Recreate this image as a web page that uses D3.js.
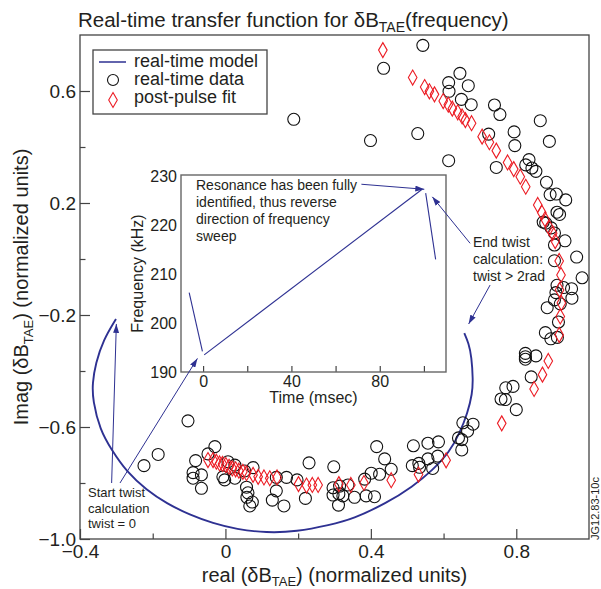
<!DOCTYPE html>
<html>
<head>
<meta charset="utf-8">
<script src="https://cdn.jsdelivr.net/npm/d3@7"></script>
<style>
  body { margin: 0; background: #fff; }
  svg { display: block; font-family: "Liberation Sans", Arial, Helvetica, sans-serif; }
</style>
</head>
<body>
<script>
// ---- data ----
// real-time model curve, [real, imag]
const modelCurve = [
  [-0.301, -0.214], [-0.336, -0.289], [-0.357, -0.373], [-0.366, -0.444], [-0.365, -0.504],
  [-0.345, -0.611], [-0.313, -0.682], [-0.272, -0.760], [-0.217, -0.825], [-0.162, -0.873],
  [-0.098, -0.914], [-0.034, -0.944], [0.030, -0.965], [0.113, -0.978], [0.195, -0.974],
  [0.287, -0.950], [0.351, -0.928], [0.442, -0.873], [0.515, -0.813], [0.570, -0.754],
  [0.616, -0.690], [0.644, -0.623], [0.666, -0.551], [0.679, -0.480], [0.681, -0.432],
  [0.677, -0.349], [0.669, -0.301], [0.657, -0.265]
];

// real-time data (circles)
const realTimeData = [
  [0.543, 0.763], [0.435, 0.681], [0.645, 0.663], [0.614, 0.630], [0.668, 0.619], [0.615, 0.599],
  [0.649, 0.570], [0.676, 0.551], [0.740, 0.550], [0.755, 0.516], [0.866, 0.494], [0.529, 0.448],
  [0.724, 0.446], [0.794, 0.454], [0.891, 0.420], [0.796, 0.405], [0.614, 0.351], [0.745, 0.327],
  [0.835, 0.355], [0.826, 0.336], [0.843, 0.325], [0.854, 0.313], [0.883, 0.274], [0.893, 0.230],
  [0.910, 0.232], [0.936, 0.211], [0.912, 0.167], [0.919, 0.159], [0.874, 0.132], [0.881, 0.128],
  [0.896, 0.111], [0.905, 0.093], [0.934, 0.065], [0.905, 0.050], [0.966, 0.007], [0.905, -0.006],
  [0.981, -0.067], [0.912, -0.094], [0.930, -0.102], [0.952, -0.106], [0.909, -0.120], [0.953, -0.140],
  [0.905, -0.146], [0.921, -0.160], [0.885, -0.174], [0.916, -0.225], [0.880, -0.263], [0.895, -0.285],
  [0.913, -0.280], [0.825, -0.337], [0.825, -0.349], [0.825, -0.358], [0.854, -0.346], [0.841, -0.421],
  [0.771, -0.460], [0.791, -0.455], [0.758, -0.500], [0.770, -0.502], [0.800, -0.538], [0.653, -0.585],
  [0.681, -0.590], [0.666, -0.615], [0.641, -0.639], [0.650, -0.645], [0.650, -0.682], [0.586, -0.653],
  [0.584, -0.704], [0.557, -0.658], [0.517, -0.667], [0.514, -0.738], [0.532, -0.730], [0.534, -0.744],
  [0.557, -0.714], [0.570, -0.748], [0.416, -0.670], [0.438, -0.714], [0.456, -0.751], [0.424, -0.769],
  [0.401, -0.765], [0.383, -0.786], [0.298, -0.742], [0.296, -0.817], [0.314, -0.811], [0.337, -0.807],
  [0.296, -0.843], [0.312, -0.839], [0.323, -0.846], [0.311, -0.879], [0.355, -0.851], [0.387, -0.846],
  [0.410, -0.849], [0.230, -0.728], [0.220, -0.855], [0.140, -0.780], [0.168, -0.780], [0.197, -0.789],
  [0.140, -0.828], [0.129, -0.861], [0.161, -0.882], [0.058, -0.815], [0.062, -0.835], [0.059, -0.851],
  [0.074, -0.868], [0.067, -0.882], [0.007, -0.724], [0.026, -0.736], [0.053, -0.757], [0.076, -0.745],
  [-0.089, -0.763], [-0.066, -0.771], [-0.089, -0.783], [-0.007, -0.778], [-0.002, -0.789], [0.026, -0.783],
  [-0.066, -0.819], [-0.029, -0.670], [-0.048, -0.696], [-0.082, -0.720], [-0.103, -0.578], [-0.185, -0.698],
  [-0.224, -0.738], [0.188, 0.499], [0.399, 0.423]
];

// post-pulse fit (diamonds)
const postPulseFit = [
  [0.433, 0.746], [0.515, 0.648], [0.548, 0.614], [0.561, 0.599], [0.575, 0.588], [0.599, 0.564],
  [0.613, 0.551], [0.624, 0.537], [0.639, 0.524], [0.651, 0.509], [0.660, 0.496], [0.677, 0.485],
  [0.706, 0.437], [0.726, 0.417], [0.745, 0.387], [0.776, 0.345], [0.793, 0.321], [0.811, 0.294],
  [0.826, 0.258], [0.859, 0.193], [0.870, 0.166], [0.879, 0.142], [0.891, 0.111], [0.900, 0.092],
  [0.907, 0.064], [0.918, -0.007], [0.923, -0.057], [0.919, -0.111], [0.924, -0.157], [0.921, -0.205],
  [0.918, -0.271], [0.888, -0.364], [0.872, -0.413], [0.849, -0.464], [0.760, -0.587], [0.607, -0.719],
  [0.531, -0.770], [0.456, -0.790], [0.381, -0.800], [0.345, -0.807], [0.312, -0.804], [0.255, -0.807],
  [0.239, -0.807], [0.223, -0.809], [0.201, -0.804], [0.142, -0.780], [0.122, -0.783], [0.106, -0.780],
  [0.090, -0.778], [0.076, -0.771], [0.058, -0.765], [0.048, -0.760], [0.037, -0.756], [0.028, -0.751],
  [0.019, -0.748], [0.010, -0.742], [0.001, -0.736], [-0.008, -0.732], [-0.016, -0.730], [-0.025, -0.724],
  [-0.034, -0.718], [-0.048, -0.718]
];

// inset: frequency sweep, [time msec, kHz]
const sweepSegments = [
  [[-6.3, 206.2], [-0.3, 194.2]],
  [[0.5, 193.5], [99.2, 227.3]],
  [[100.8, 226.5], [105.3, 213.0]]
];

const xMajor = [-0.4, 0, 0.4, 0.8];
const xMinor = [-0.2, 0.2, 0.6];
const yMajor = [0.6, 0.2, -0.2, -0.6, -1.0];
const yMinor = [0.4, 0, -0.4, -0.8];
const insetXMajor = [0, 40, 80];
const insetXMinor = [20, 60, 100];
const insetYTicks = [190, 200, 210, 220, 230];

const legendLabels = ["real-time model", "real-time data", "post-pulse fit"];
const noteResonance = ["Resonance has been fully", "identified, thus reverse", "direction of frequency", "sweep"];
const noteEnd = ["End twist", "calculation:", "twist > 2rad"];
const noteStart = ["Start twist", "calculation", "twist = 0"];

// ---- styles ----
const ink = "#231f20";
const frameColor = "#444";
const blue = "#2e3192";
const red = "#ec1c24";

const width = 601, height = 589;
const box = { left: 80, right: 589, top: 35, bottom: 539 };
const inBox = { left: 181, right: 446, top: 175, bottom: 372 };

const x = d3.scaleLinear().domain([-0.4, 1.0]).range([box.left, box.right]);
const y = d3.scaleLinear().domain([-1.0, 0.8]).range([box.bottom, box.top]);
const ix = d3.scaleLinear().domain([-10, 110]).range([inBox.left, inBox.right]);
const iy = d3.scaleLinear().domain([190, 230]).range([inBox.bottom, inBox.top + 1]);

// "−0.4", "0", "0.8", "−1.0"
const fmt1 = v => v === 0 ? "0" : (v < 0 ? "\u2212" : "") + Math.abs(v).toFixed(1);

const svg = d3.select("body").append("svg")
  .attr("width", width)
  .attr("height", height);

const defs = svg.append("defs");
defs.append("marker")
  .attr("id", "arrow")
  .attr("markerUnits", "userSpaceOnUse")
  .attr("markerWidth", 9).attr("markerHeight", 6)
  .attr("refX", 9).attr("refY", 3)
  .attr("orient", "auto")
  .append("path")
  .attr("d", "M0,0 L9,3 L0,6 Z")
  .attr("fill", blue);

// title
const title = svg.append("text")
  .attr("x", 78).attr("y", 27)
  .attr("font-size", 20.5)
  .attr("fill", ink);
title.append("tspan").text("Real-time transfer function for \u03b4B");
title.append("tspan").attr("font-size", 14).attr("dy", 5).text("TAE");
title.append("tspan").attr("dy", -5).text("(frequency)");

// axes
function styleAxis(g, size) {
  g.select(".domain").remove();
  g.selectAll("line").attr("stroke", frameColor).attr("stroke-width", 1.2);
  g.selectAll("text").attr("font-size", size).attr("fill", ink)
    .attr("font-family", "Liberation Sans, Arial, sans-serif");
}

svg.append("g")
  .attr("transform", `translate(0,${box.bottom})`)
  .call(d3.axisBottom(x).tickValues(xMajor).tickSize(-10).tickPadding(5.5).tickFormat(fmt1))
  .call(g => styleAxis(g, 19));
svg.append("g")
  .attr("transform", `translate(0,${box.bottom})`)
  .call(d3.axisBottom(x).tickValues(xMinor).tickSize(-5.5).tickFormat(""))
  .call(g => styleAxis(g, 19));
svg.append("g")
  .attr("transform", `translate(${box.left},0)`)
  .call(d3.axisLeft(y).tickValues(yMajor).tickSize(-10).tickPadding(4).tickFormat(fmt1))
  .call(g => styleAxis(g, 19));
svg.append("g")
  .attr("transform", `translate(${box.left},0)`)
  .call(d3.axisLeft(y).tickValues(yMinor).tickSize(-5.5).tickFormat(""))
  .call(g => styleAxis(g, 19));

// frame
svg.append("rect")
  .attr("x", box.left).attr("y", box.top)
  .attr("width", box.right - box.left).attr("height", box.bottom - box.top)
  .attr("fill", "none").attr("stroke", frameColor).attr("stroke-width", 1.3);

// axis titles
const xt = svg.append("text")
  .attr("x", (box.left + box.right) / 2).attr("y", 582)
  .attr("text-anchor", "middle").attr("font-size", 20).attr("fill", ink);
xt.append("tspan").text("real (\u03b4B");
xt.append("tspan").attr("font-size", 13).attr("dy", 4).text("TAE");
xt.append("tspan").attr("dy", -4).text(") (normalized units)");

const yt = svg.append("text")
  .attr("transform", `translate(28,${(box.top + box.bottom) / 2}) rotate(-90)`)
  .attr("text-anchor", "middle").attr("font-size", 20).attr("fill", ink);
yt.append("tspan").text("Imag (\u03b4B");
yt.append("tspan").attr("font-size", 13).attr("dy", 5).text("TAE");
yt.append("tspan").attr("dy", -5).text(") (normalized units)");

// model curve
svg.append("path")
  .datum(modelCurve)
  .attr("fill", "none")
  .attr("stroke", blue)
  .attr("stroke-width", 1.9)
  .attr("d", d3.line().x(d => x(d[0])).y(d => y(d[1])).curve(d3.curveBasis));

// circles
svg.append("g")
  .attr("fill", "none").attr("stroke", "#111").attr("stroke-width", 1.1)
  .selectAll("circle")
  .data(realTimeData)
  .join("circle")
  .attr("cx", d => x(d[0])).attr("cy", d => y(d[1]))
  .attr("r", 6);

// diamonds
const diamond = (cx, cy, w, h) => `M${cx},${cy - h}L${cx + w},${cy}L${cx},${cy + h}L${cx - w},${cy}Z`;
svg.append("g")
  .attr("fill", "none").attr("stroke", red).attr("stroke-width", 1.1)
  .selectAll("path")
  .data(postPulseFit)
  .join("path")
  .attr("d", d => diamond(x(d[0]), y(d[1]), 4.3, 7.5));

// inset
const inset = svg.append("g");
inset.append("rect")
  .attr("x", inBox.left).attr("y", inBox.top)
  .attr("width", inBox.right - inBox.left).attr("height", inBox.bottom - inBox.top)
  .attr("fill", "#fff");
inset.append("g")
  .attr("transform", `translate(0,${inBox.bottom})`)
  .call(d3.axisBottom(ix).tickValues(insetXMajor).tickSize(-6).tickPadding(4))
  .call(g => styleAxis(g, 16));
inset.append("g")
  .attr("transform", `translate(0,${inBox.bottom})`)
  .call(d3.axisBottom(ix).tickValues(insetXMinor).tickSize(-6).tickFormat(""))
  .call(g => styleAxis(g, 16));
inset.append("g")
  .attr("transform", `translate(${inBox.left},0)`)
  .call(d3.axisLeft(iy).tickValues(insetYTicks).tickSize(0).tickPadding(4))
  .call(g => styleAxis(g, 16));
inset.append("rect")
  .attr("x", inBox.left).attr("y", inBox.top)
  .attr("width", inBox.right - inBox.left).attr("height", inBox.bottom - inBox.top)
  .attr("fill", "none").attr("stroke", "#666").attr("stroke-width", 1.4);
inset.append("text")
  .attr("x", (inBox.left + inBox.right) / 2).attr("y", 403)
  .attr("text-anchor", "middle").attr("font-size", 16).attr("fill", ink)
  .text("Time (msec)");
inset.append("text")
  .attr("transform", `translate(143,${(inBox.top + inBox.bottom) / 2}) rotate(-90)`)
  .attr("text-anchor", "middle").attr("font-size", 16).attr("fill", ink)
  .text("Frequency (kHz)");
inset.append("g")
  .selectAll("path")
  .data(sweepSegments)
  .join("path")
  .attr("fill", "none").attr("stroke", blue).attr("stroke-width", 1.1)
  .attr("d", d3.line().x(d => ix(d[0])).y(d => iy(d[1])));

// annotations
function note(lines, x0, y0, step, size) {
  svg.append("text")
    .attr("font-size", size).attr("fill", ink)
    .selectAll("tspan")
    .data(lines)
    .join("tspan")
    .attr("x", x0).attr("y", (d, i) => y0 + i * step)
    .text(d => d);
}
note(noteResonance, 196, 190, 17, 14);
note(noteEnd, 473, 246.5, 17, 14);
note(noteStart, 88, 497, 15.5, 13);

const arrows = [
  [[-0.313, -0.800], [-0.300, -0.232]],
  [[-0.290, -0.800], [-0.077, -0.355]],
  [[0.374, 0.267], [0.547, 0.249]],
  [[0.673, 0.056], [0.569, 0.222]],
  [[0.728, -0.093], [0.669, -0.232]]
];
svg.append("g")
  .selectAll("line")
  .data(arrows)
  .join("line")
  .attr("x1", d => x(d[0][0])).attr("y1", d => y(d[0][1]))
  .attr("x2", d => x(d[1][0])).attr("y2", d => y(d[1][1]))
  .attr("stroke", blue).attr("stroke-width", 1)
  .attr("marker-end", "url(#arrow)");

// legend
const lg = svg.append("g");
lg.append("rect")
  .attr("x", 93).attr("y", 50).attr("width", 174).attr("height", 64)
  .attr("fill", "#fff").attr("stroke", frameColor).attr("stroke-width", 1.3);
lg.append("line")
  .attr("x1", 99).attr("x2", 126).attr("y1", 62).attr("y2", 62)
  .attr("stroke", blue).attr("stroke-width", 1.5);
lg.append("circle")
  .attr("cx", 113).attr("cy", 80).attr("r", 5.5)
  .attr("fill", "none").attr("stroke", "#111").attr("stroke-width", 1.1);
lg.append("path")
  .attr("d", diamond(113, 100, 4.3, 7.5))
  .attr("fill", "none").attr("stroke", red).attr("stroke-width", 1.1);
lg.selectAll("text.lbl")
  .data(legendLabels)
  .join("text")
  .attr("class", "lbl")
  .attr("x", 134).attr("y", (d, i) => 67 + i * 18)
  .attr("font-size", 18).attr("fill", ink)
  .text(d => d);

// figure id
svg.append("text")
  .attr("transform", "translate(599,540) rotate(-90)")
  .attr("font-size", 11).attr("fill", ink)
  .text("JG12.83-10c");
</script>
</body>
</html>
